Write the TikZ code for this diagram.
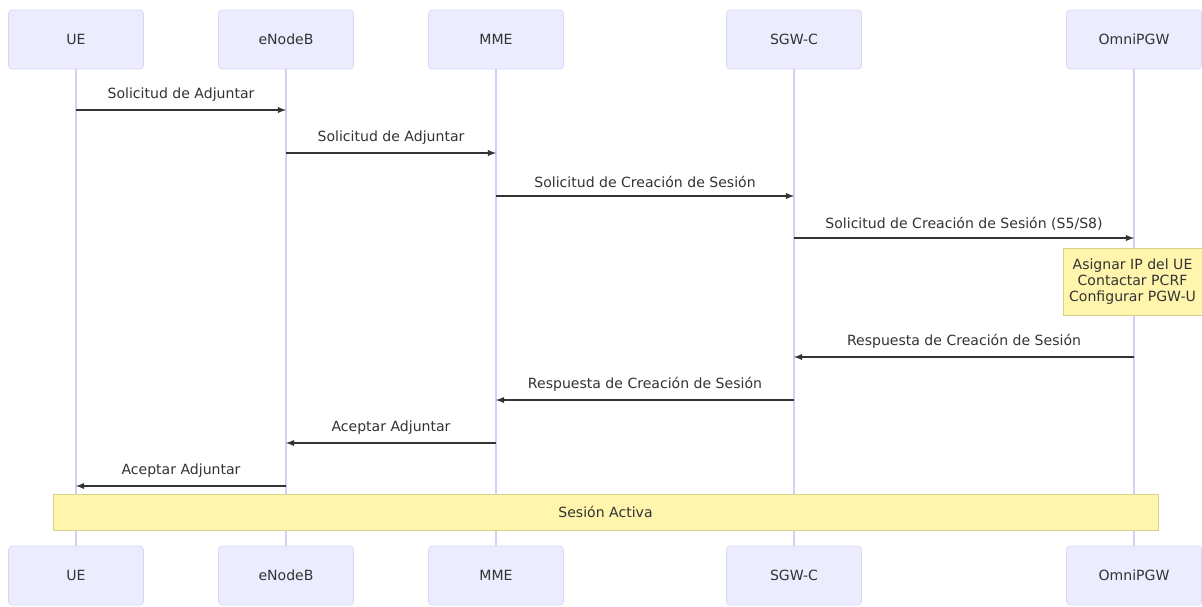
\documentclass[tikz,border=0pt]{standalone}
\usepackage{fontspec}
\setmainfont{DejaVu Sans}
\usepackage{tikz}
\usetikzlibrary{arrows, positioning, calc}
\definecolor{actorfill}{HTML}{ECECFF}
\definecolor{actorline}{HTML}{DCD3F7}
\definecolor{lifeline}{HTML}{D9CCF5}
\definecolor{notefill}{HTML}{FFF5AD}
\definecolor{noteline}{HTML}{D6D28A}
\definecolor{msgline}{HTML}{333333}
\tikzstyle{actor} = [rectangle, rounded corners=2pt, minimum width=2.7cm, minimum height=1.18cm, text centered, draw=actorline, fill=actorfill, font=\fontsize{8pt}{9pt}\selectfont, text=msgline]
\tikzstyle{life} = [draw=lifeline, line width=0.6pt]
\tikzstyle{arrow} = [draw=msgline, line width=0.6pt, ->, >=latex]
\tikzstyle{msg} = [above=1pt, font=\fontsize{8pt}{9pt}\selectfont, text=msgline]
\tikzstyle{note} = [rectangle, draw=noteline, fill=notefill, text centered, font=\fontsize{8pt}{9pt}\selectfont, text=msgline, align=center]

\begin{document}
\begin{tikzpicture}[x=0.02cm, y=-0.02cm]
        \useasboundingbox (0,0) rectangle (1202,606);
        % Actors (top)
        \node (ue) [actor] at (76,39.5) {UE};
        \node (enb) [actor] at (286,39.5) {eNodeB};
        \node (mme) [actor] at (496,39.5) {MME};
        \node (sgw) [actor] at (794,39.5) {SGW-C};
        \node (pgw) [actor] at (1134,39.5) {OmniPGW};

        % Actors (bottom)
        \node (ueB) [actor] at (76,575.5) {UE};
        \node (enbB) [actor] at (286,575.5) {eNodeB};
        \node (mmeB) [actor] at (496,575.5) {MME};
        \node (sgwB) [actor] at (794,575.5) {SGW-C};
        \node (pgwB) [actor] at (1134,575.5) {OmniPGW};

        % Lifelines
        \draw [life] (ue) -- (ueB);
        \draw [life] (enb) -- (enbB);
        \draw [life] (mme) -- (mmeB);
        \draw [life] (sgw) -- (sgwB);
        \draw [life] (pgw) -- (pgwB);

        % Message rows
        \coordinate (m1) at (0,110);
        \coordinate (m2) at (0,153);
        \coordinate (m3) at (0,196);
        \coordinate (m4) at (0,238);
        \coordinate (m5) at (0,357);
        \coordinate (m6) at (0,400);
        \coordinate (m7) at (0,443);
        \coordinate (m8) at (0,486);

        % Arrows
        \draw [arrow] (ue |- m1) -- node[msg] {Solicitud de Adjuntar} (enb |- m1);
        \draw [arrow] (enb |- m2) -- node[msg] {Solicitud de Adjuntar} (mme |- m2);
        \draw [arrow] (mme |- m3) -- node[msg] {Solicitud de Creación de Sesión} (sgw |- m3);
        \draw [arrow] (sgw |- m4) -- node[msg] {Solicitud de Creación de Sesión (S5/S8)} (pgw |- m4);
        \draw [arrow] (pgw |- m5) -- node[msg] {Respuesta de Creación de Sesión} (sgw |- m5);
        \draw [arrow] (sgw |- m6) -- node[msg] {Respuesta de Creación de Sesión} (mme |- m6);
        \draw [arrow] (mme |- m7) -- node[msg] {Aceptar Adjuntar} (enb |- m7);
        \draw [arrow] (enb |- m8) -- node[msg] {Aceptar Adjuntar} (ue |- m8);

        % Notes
        \node (pgwnote) [note, minimum width=2.78cm, minimum height=1.34cm] at (1132.5,281.5) {Asignar IP del UE\\Contactar PCRF\\Configurar PGW-U};
        \node (active) [note, minimum width=22.1cm, minimum height=0.72cm] at (605.5,512) {Sesión Activa};
    \end{tikzpicture}
\end{document}
